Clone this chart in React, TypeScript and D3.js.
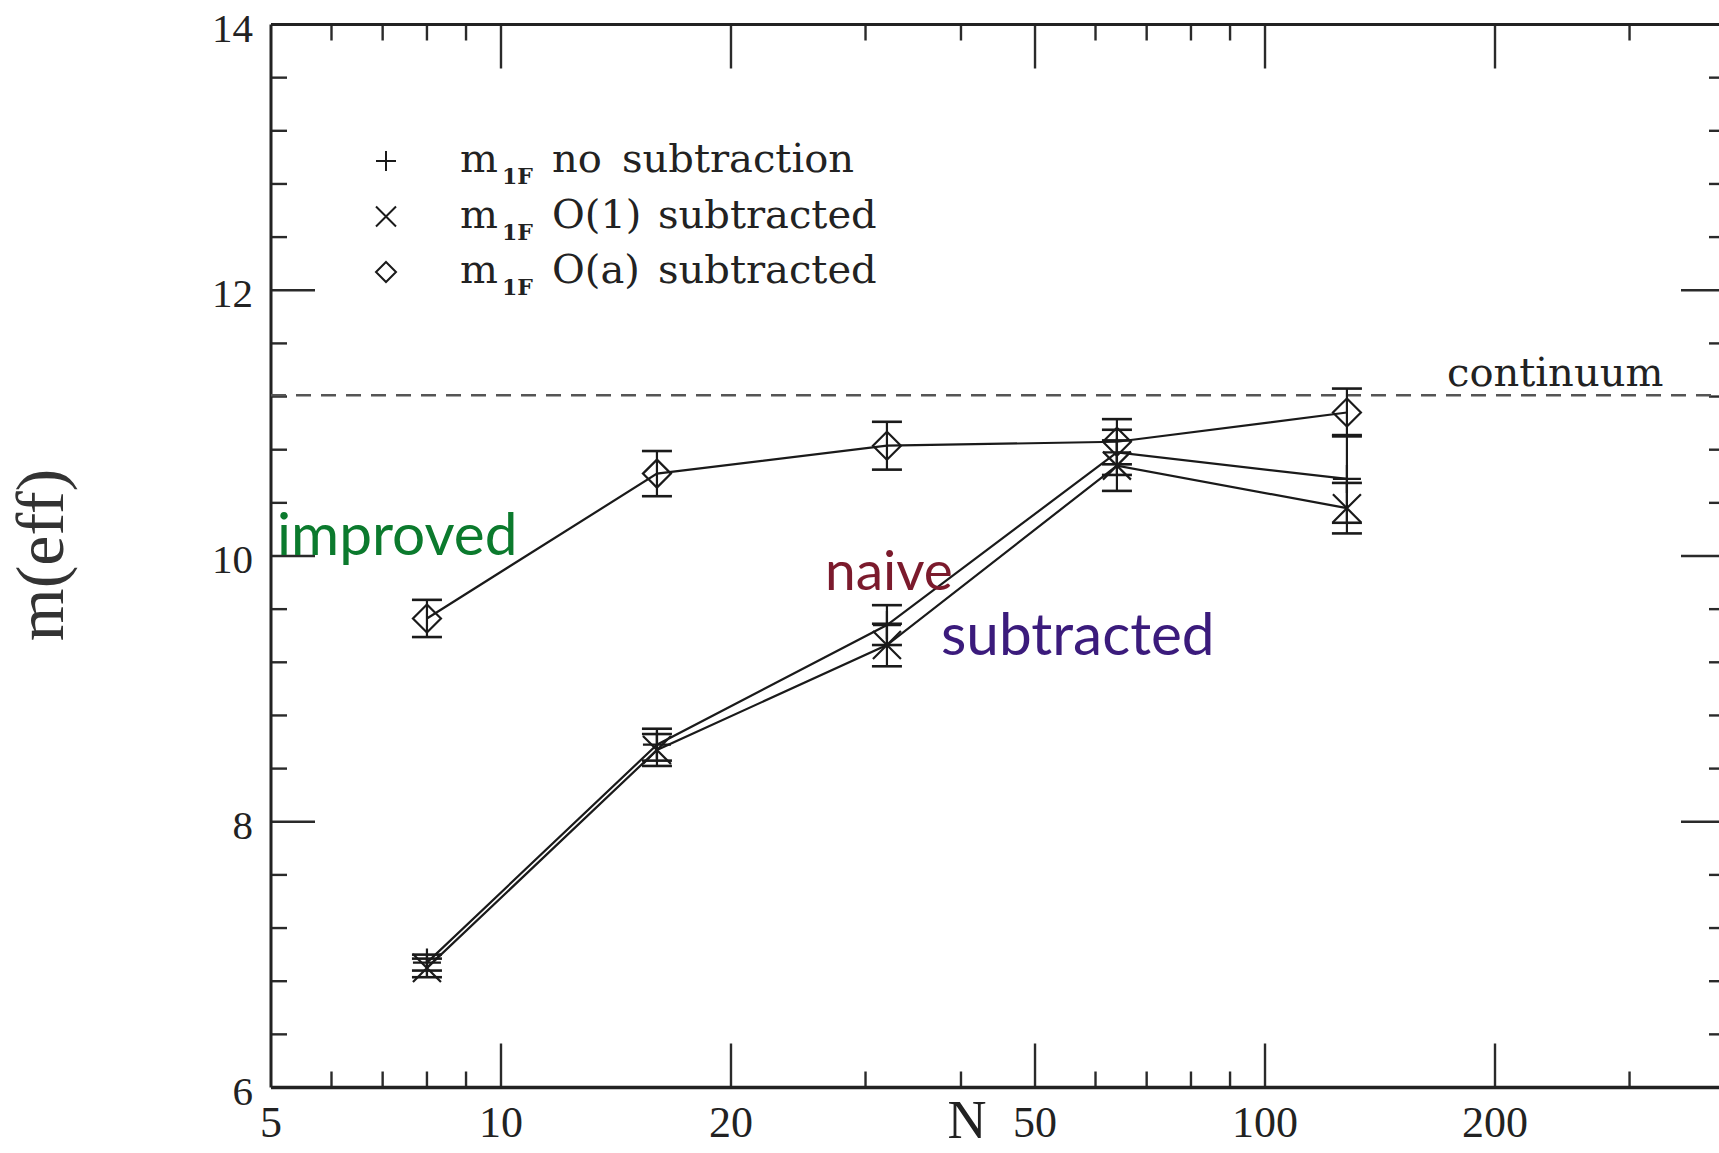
import React from "react";
import * as d3 from "d3";

// ---- data ----
const latticeN = [8, 16, 32, 64, 128];
const noSubValues = [6.94, 8.58, 9.48, 10.78, 10.58];
const noSubErrors = [0.06, 0.12, 0.15, 0.17, 0.33];
const o1Values = [6.9, 8.54, 9.33, 10.68, 10.36];
const o1Errors = [0.07, 0.12, 0.16, 0.19, 0.19];
const oaValues = [9.53, 10.62, 10.83, 10.86, 11.08];
const oaErrors = [0.14, 0.17, 0.18, 0.17, 0.18];
const continuumValue = 11.21;
const xTickLabels = [5, 10, 20, 50, 100, 200];
const xMajorTicks = [10, 20, 50, 100, 200];
const yTickLabels = [6, 8, 10, 12, 14];
const legendSymbols = ["plus", "cross", "diamond"];
const legendRest = [
  ["no", "subtraction"],
  ["O(1)", "subtracted"],
  ["O(a)", "subtracted"],
];

const W = 1719;
const H = 1153;
const left = 271;
const right = 1725;
const top = 24.5;
const bottom = 1087.5;

const x = d3.scaleLog().domain([5, 400]).range([left, right]);
const y = d3.scaleLinear().domain([6, 14]).range([bottom, top]);

const INK = "#1a1a1a";

function markerPath(kind: string, h: number) {
  const p = d3.path();
  if (kind === "plus") {
    p.moveTo(-h, 0); p.lineTo(h, 0);
    p.moveTo(0, -h); p.lineTo(0, h);
  } else if (kind === "cross") {
    p.moveTo(-h, -h); p.lineTo(h, h);
    p.moveTo(-h, h); p.lineTo(h, -h);
  } else {
    p.moveTo(0, -h); p.lineTo(h, 0); p.lineTo(0, h); p.lineTo(-h, 0); p.closePath();
  }
  return p.toString();
}

function Series({ values, errors, kind }: { values: number[]; errors: number[]; kind: string }) {
  const line = d3
    .line<number>()
    .x((_, i) => x(latticeN[i]))
    .y((v) => y(v));
  const cap = 15;
  return (
    <g stroke={INK} strokeWidth={2.2} fill="none">
      <path d={line(values) || ""} />
      {values.map((v, i) => {
        const cx = x(latticeN[i]);
        const y1 = y(v + errors[i]);
        const y2 = y(v - errors[i]);
        return (
          <g key={i}>
            <line x1={cx} x2={cx} y1={y1} y2={y2} />
            <line x1={cx - cap} x2={cx + cap} y1={y1} y2={y1} strokeWidth={2.6} />
            <line x1={cx - cap} x2={cx + cap} y1={y2} y2={y2} strokeWidth={2.6} />
            <path d={markerPath(kind, 14)} transform={`translate(${cx},${y(v)})`} />
          </g>
        );
      })}
    </g>
  );
}

export default function App() {
  const xMinor = x.ticks().filter((t) => t > 5 && t < 400 && !xMajorTicks.includes(t));
  const yAll = d3.range(0, 21).map((i) => 6 + i * 0.4);
  const yMinor = yAll.filter((v) => Math.abs(v / 2 - Math.round(v / 2)) > 1e-6);
  const major = 44;
  const minor = 16;

  return (
    <svg
      width={W}
      height={H}
      style={{ position: "absolute", left: 0, top: 0, background: "#fff" }}
    >
      <rect x={0} y={0} width={W} height={H} fill="#fff" />

      {/* ticks */}
      <g stroke="#2a2a2a" strokeWidth={2.4}>
        {xMajorTicks.map((t) => (
          <g key={"xm" + t}>
            <line x1={x(t)} x2={x(t)} y1={bottom} y2={bottom - major} />
            <line x1={x(t)} x2={x(t)} y1={top} y2={top + major} />
          </g>
        ))}
        {xMinor.map((t) => (
          <g key={"xn" + t}>
            <line x1={x(t)} x2={x(t)} y1={bottom} y2={bottom - minor} />
            <line x1={x(t)} x2={x(t)} y1={top} y2={top + minor} />
          </g>
        ))}
        {yTickLabels.map((t) => (
          <g key={"ym" + t}>
            <line x1={left} x2={left + major} y1={y(t)} y2={y(t)} />
            <line x1={right} x2={right - major} y1={y(t)} y2={y(t)} />
          </g>
        ))}
        {yMinor.map((t) => (
          <g key={"yn" + t}>
            <line x1={left} x2={left + minor} y1={y(t)} y2={y(t)} />
            <line x1={right} x2={right - minor} y1={y(t)} y2={y(t)} />
          </g>
        ))}
      </g>

      {/* frame */}
      <g stroke="#222" fill="none">
        <line x1={left} x2={left} y1={top} y2={bottom} strokeWidth={3} />
        <line x1={left} x2={right} y1={top} y2={top} strokeWidth={3.2} />
        <line x1={left} x2={right} y1={bottom} y2={bottom} strokeWidth={3.6} />
        <line x1={right} x2={right} y1={top} y2={bottom} strokeWidth={3} />
      </g>

      {/* continuum */}
      <line
        x1={left}
        x2={right}
        y1={y(continuumValue)}
        y2={y(continuumValue)}
        stroke="#555"
        strokeWidth={2.6}
        strokeDasharray="15 10"
      />
      <text
        x={1447}
        y={y(continuumValue) - 9}
        fontFamily="DejaVu Serif"
        fontSize={40}
        fill="#222"
      >
        continuum
      </text>

      {/* tick labels */}
      <g fontFamily="Liberation Serif" fill="#222">
        {xTickLabels.map((t) => (
          <text key={"xl" + t} x={x(t)} y={1137} fontSize={44} textAnchor="middle">
            {t}
          </text>
        ))}
        {yTickLabels.map((t) => (
          <text
            key={"yl" + t}
            x={253}
            y={y(t) + 3}
            fontSize={41}
            textAnchor="end"
            dominantBaseline="central"
          >
            {t}
          </text>
        ))}
        <text x={967} y={1138} fontSize={54} textAnchor="middle">
          N
        </text>
        <text
          transform={`translate(63,${555}) rotate(-90)`}
          fontSize={68}
          textAnchor="middle"
          fill="#333"
        >
          m(eff)
        </text>
      </g>

      {/* data */}
      <Series values={oaValues} errors={oaErrors} kind="diamond" />
      <Series values={noSubValues} errors={noSubErrors} kind="plus" />
      <Series values={o1Values} errors={o1Errors} kind="cross" />

      {/* legend */}
      <g fontFamily="DejaVu Serif" fill="#222">
        {legendSymbols.map((k, i) => {
          const base = 172 + i * 55.5;
          return (
            <g key={k}>
              <path
                d={markerPath(k, 10)}
                transform={`translate(386,${base - 11})`}
                stroke={INK}
                strokeWidth={2}
                fill="none"
              />
              <text x={460} y={base} fontSize={40}>
                m
              </text>
              <text x={502} y={base + 12} fontSize={22} fontWeight="bold">
                1F
              </text>
              <text x={552} y={base} fontSize={40}>
                {legendRest[i][0]}
              </text>
              <text x={i === 0 ? 622 : 658} y={base} fontSize={40}>
                {legendRest[i][1]}
              </text>
            </g>
          );
        })}
      </g>

      {/* annotations */}
      <g fontFamily="Lato">
        <text x={277} y={555} fill="#0b7a2d" fontSize={58.5}>
          improved
        </text>
        <text x={825} y={590} fill="#7b1a2c" fontSize={55}>
          naive
        </text>
        <text x={941} y={655} fill="#3b1b7c" fontSize={58.5}>
          subtracted
        </text>
      </g>
    </svg>
  );
}
